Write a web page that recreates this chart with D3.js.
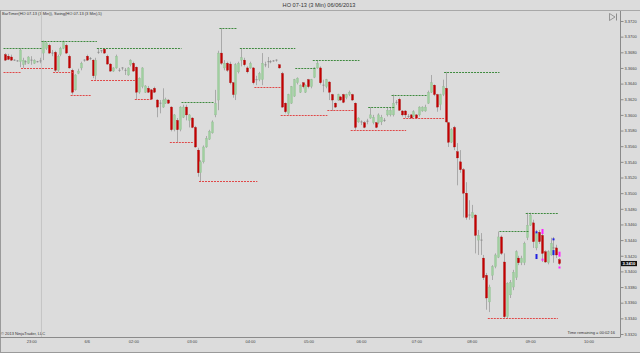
<!DOCTYPE html>
<html><head><meta charset="utf-8">
<script src="https://cdn.jsdelivr.net/npm/d3@7"></script>
<style>html,body{margin:0;padding:0;background:#dcdcdc;overflow:hidden}svg{display:block}</style>
</head><body>
<svg id="c" width="640" height="353"></svg>
<script>
// ---------- DATA ----------
const open = [
3.3677,3.3675,3.3674,3.3670,3.3669,3.3668,3.3664,3.3668,3.3666,3.3670,
3.3666,3.3668,3.3669,3.3679,3.3685,3.3689,3.3679,3.3680,3.3657,3.3677,
3.3685,3.3689,3.3675,3.3657,3.3632,3.3653,3.3660,3.3670,3.3675,3.3672,
3.3670,3.3650,3.3680,3.3682,3.3684,3.3675,3.3665,3.3656,3.3660,3.3657,
3.3660,3.3657,3.3651,3.3664,3.3666,3.3661,3.3629,3.3636,3.3629,3.3634,
3.3632,3.3634,3.3619,3.3615,3.3610,3.3615,3.3619,3.3610,3.3581,3.3593,
3.3581,
3.3597,3.3610,3.3593,3.3596,3.3584,3.3555,3.3526,3.3540,3.3559,3.3569,
3.3577,3.3600,3.3619,3.3679,3.3660,3.3666,3.3665,3.3641,3.3626,3.3655,
3.3670,3.3670,3.3660,3.3660,3.3660,3.3645,3.3645,3.3645,3.3664,3.3668,
3.3668,3.3669,3.3670,3.3664,3.3653,3.3615,3.3602,3.3615,3.3624,3.3641,
3.3629,3.3641,3.3629,3.3645,3.3636,3.3648,3.3660,3.3660,3.3638,3.3636,
3.3642,3.3626,3.3615,3.3619,3.3623,3.3626,3.3622,3.3626,3.3626,3.3615,
3.3591,
3.3591,3.3590,3.3592,3.3596,3.3590,3.3590,3.3590,3.3591,3.3593,3.3600,
3.3600,3.3600,3.3616,3.3620,3.3605,3.3605,3.3598,3.3600,3.3598,3.3600,
3.3600,3.3605,3.3605,3.3615,3.3629,3.3638,3.3626,3.3613,3.3626,3.3634,
3.3590,3.3565,3.3584,3.3553,3.3540,3.3530,3.3500,3.3472,3.3469,3.3472,
3.3440,3.3440,3.3417,3.3395,3.3361,3.3395,3.3406,3.3418,3.3444,3.3412,
3.3342,3.3370,3.3380,3.3392,3.3417,3.3411,3.3411,3.3443,3.3459,3.3462,
3.3430,3.3450,3.3446,3.3425,3.3411,3.3421,3.3430,3.3430,3.3415];
const close = [
3.3670,3.3671,3.3670,3.3670,3.3669,3.3683,3.3670,3.3668,3.3674,3.3670,
3.3670,3.3668,3.3669,3.3694,3.3692,3.3679,3.3679,3.3657,3.3675,3.3685,
3.3694,3.3679,3.3660,3.3629,3.3651,3.3656,3.3666,3.3670,3.3670,3.3672,
3.3650,3.3670,3.3680,3.3682,3.3679,3.3665,3.3656,3.3660,3.3675,3.3657,
3.3660,3.3657,3.3660,3.3670,3.3656,3.3629,3.3647,3.3660,3.3637,3.3629,
3.3620,3.3629,3.3610,3.3615,3.3619,3.3620,3.3615,3.3581,3.3600,3.3581,
3.3610,
3.3610,3.3600,3.3600,3.3584,3.3559,3.3526,3.3540,3.3559,3.3570,3.3579,
3.3591,3.3615,3.3679,3.3666,3.3666,3.3657,3.3641,3.3626,3.3664,3.3666,
3.3673,3.3664,3.3655,3.3666,3.3641,3.3645,3.3653,3.3666,3.3664,3.3668,
3.3668,3.3669,3.3670,3.3660,3.3610,3.3604,3.3626,3.3636,3.3645,3.3647,
3.3638,3.3636,3.3638,3.3636,3.3645,3.3660,3.3666,3.3641,3.3638,3.3645,
3.3629,3.3619,3.3610,3.3626,3.3619,3.3616,3.3626,3.3629,3.3619,3.3584,
3.3596,
3.3591,3.3584,3.3592,3.3600,3.3597,3.3584,3.3600,3.3597,3.3593,3.3606,
3.3606,3.3615,3.3616,3.3606,3.3600,3.3600,3.3598,3.3596,3.3604,3.3596,
3.3610,3.3610,3.3610,3.3629,3.3641,3.3626,3.3610,3.3626,3.3636,3.3591,
3.3565,3.3581,3.3559,3.3545,3.3530,3.3500,3.3469,3.3472,3.3475,3.3446,
3.3446,3.3440,3.3392,3.3366,3.3380,3.3406,3.3421,3.3444,3.3423,3.3342,
3.3385,3.3386,3.3399,3.3425,3.3411,3.3417,3.3436,3.3459,3.3472,3.3438,
3.3449,3.3438,3.3423,3.3412,3.3425,3.3436,3.3430,3.3421,3.3410];
const high = [
3.3679,3.3678,3.3677,3.3671,3.3670,3.3685,3.3673,3.3670,3.3675,3.3675,
3.3671,3.3669,3.3673,3.3695,3.3693,3.3691,3.3683,3.3682,3.3677,3.3687,
3.3695,3.3691,3.3677,3.3659,3.3652,3.3659,3.3668,3.3671,3.3677,3.3674,
3.3671,3.3673,3.3685,3.3683,3.3685,3.3677,3.3666,3.3661,3.3677,3.3660,
3.3661,3.3660,3.3661,3.3671,3.3668,3.3662,3.3648,3.3661,3.3638,3.3637,
3.3633,3.3636,3.3620,3.3619,3.3634,3.3622,3.3620,3.3611,3.3601,3.3596,
3.3611,
3.3613,3.3613,3.3601,3.3597,3.3586,3.3558,3.3542,3.3561,3.3573,3.3581,
3.3593,3.3632,3.3682,3.3711,3.3670,3.3668,3.3668,3.3642,3.3666,3.3668,
3.3685,3.3673,3.3662,3.3668,3.3661,3.3650,3.3655,3.3679,3.3668,3.3674,
3.3670,3.3670,3.3671,3.3665,3.3655,3.3616,3.3627,3.3637,3.3646,3.3648,
3.3639,3.3642,3.3639,3.3646,3.3646,3.3661,3.3670,3.3662,3.3645,3.3646,
3.3643,3.3627,3.3616,3.3627,3.3624,3.3627,3.3627,3.3631,3.3627,3.3616,
3.3597,
3.3593,3.3592,3.3595,3.3610,3.3600,3.3591,3.3602,3.3600,3.3596,3.3609,
3.3610,3.3626,3.3619,3.3622,3.3606,3.3606,3.3601,3.3601,3.3606,3.3601,
3.3611,3.3611,3.3613,3.3631,3.3651,3.3639,3.3627,3.3627,3.3645,3.3655,
3.3591,3.3583,3.3586,3.3564,3.3555,3.3532,3.3514,3.3491,3.3485,3.3473,
3.3453,3.3449,3.3421,3.3398,3.3383,3.3408,3.3423,3.3451,3.3446,3.3423,
3.3386,3.3389,3.3402,3.3427,3.3420,3.3420,3.3438,3.3475,3.3475,3.3466,
3.3453,3.3453,3.3449,3.3427,3.3427,3.3443,3.3444,3.3434,3.3417];
const low = [
3.3669,3.3670,3.3669,3.3669,3.3668,3.3661,3.3660,3.3664,3.3665,3.3664,
3.3665,3.3667,3.3666,3.3670,3.3683,3.3678,3.3675,3.3655,3.3655,3.3675,
3.3684,3.3678,3.3659,3.3626,3.3631,3.3652,3.3657,3.3668,3.3669,3.3670,
3.3647,3.3645,3.3678,3.3679,3.3678,3.3664,3.3655,3.3655,3.3659,3.3655,
3.3657,3.3651,3.3650,3.3662,3.3655,3.3620,3.3627,3.3634,3.3628,3.3628,
3.3620,3.3628,3.3597,3.3602,3.3609,3.3614,3.3614,3.3579,3.3579,3.3565,
3.3579,
3.3596,3.3593,3.3584,3.3583,3.3558,3.3521,3.3515,3.3538,3.3558,3.3568,
3.3576,3.3597,3.3606,3.3664,3.3657,3.3655,3.3639,3.3622,3.3619,3.3653,
3.3662,3.3662,3.3653,3.3659,3.3639,3.3638,3.3643,3.3638,3.3661,3.3660,
3.3666,3.3668,3.3668,3.3659,3.3609,3.3602,3.3600,3.3614,3.3623,3.3639,
3.3628,3.3634,3.3628,3.3634,3.3634,3.3647,3.3659,3.3639,3.3629,3.3634,
3.3619,3.3605,3.3609,3.3618,3.3618,3.3615,3.3620,3.3624,3.3618,3.3581,
3.3590,
3.3587,3.3583,3.3588,3.3595,3.3588,3.3583,3.3588,3.3587,3.3591,3.3598,
3.3598,3.3598,3.3613,3.3605,3.3598,3.3596,3.3596,3.3596,3.3597,3.3596,
3.3598,3.3604,3.3604,3.3614,3.3628,3.3624,3.3604,3.3606,3.3624,3.3590,
3.3559,3.3564,3.3555,3.3510,3.3526,3.3469,3.3466,3.3466,3.3468,3.3423,
3.3421,3.3421,3.3389,3.3351,3.3348,3.3389,3.3404,3.3417,3.3421,3.3340,
3.3340,3.3366,3.3376,3.3389,3.3408,3.3408,3.3408,3.3440,3.3458,3.3430,
3.3427,3.3435,3.3412,3.3411,3.3409,3.3420,3.3411,3.3417,3.3408];

const yTicks = [3.3320,3.3340,3.3360,3.3380,3.3400,3.3420,3.3440,3.3460,3.3480,3.3500,3.3520,
                3.3540,3.3560,3.3580,3.3600,3.3620,3.3640,3.3660,3.3680,3.3700,3.3720];
const timeLabels = ["23:00","6/6","02:00","03:00","04:00","05:00","06:00","07:00","08:00","09:00","10:00"];
const timeIndex  = [9,28,44,64,84,104,122,141,160,180,200];
const sessionBreak = 12.5;
// swing lines: [startBar, endBar, price]
const swingHighs = [[0,12,3.3685],[13,31,3.3695],[32,60,3.3685],[61,71,3.3616],[74,79,3.3711],
  [81,99,3.3685],[100,106,3.3660],[106,121,3.3670],[125,133,3.3610],[133,144,3.3626],
  [151,169,3.3655],[170,179,3.3451],[179,189,3.3475]];
const swingLows = [[0,5,3.3655],[6,16,3.3660],[17,23,3.3655],[23,29,3.3626],[30,44,3.3645],
  [45,50,3.3620],[57,64,3.3565],[67,86,3.3515],[86,94,3.3636],[95,110,3.3600],
  [111,119,3.3606],[119,137,3.3581],[137,150,3.3596],[166,189,3.3341]];
// marker bars / prices / colours / heights(px class)
const markerBar   = [182,182,184,184,188,188,190,190];
const markerPrice = [3.3450,3.3419,3.3451,3.3415,3.3441,3.3424,3.3422,3.3405];
const markerColor = ["#2020e0","#2020e0","#ff20ff","#ff20ff","#2020e0","#2020e0","#ff20ff","#ff20ff"];
const markerTall  = [0,1,1,0,0,1,1,0];
const titleText = "HO 07-13 (3 Min)  06/06/2013";
const legendText = "BarTimer(HO 07-13 (3 Min)), Swing(HO 07-13 (3 Min),5)";
const copyText = "\u00A9 2013 NinjaTrader, LLC";
const timerText = "Time remaining = 00:02:16";

// ---------- DRAW ----------
const svg = d3.select("#c");
const plotTop = 11, plotBottom = 337, plotRight = 620;
const x = d3.scaleLinear().domain([0, 190]).range([5, 559.3]);
const y = d3.scaleLinear().domain([3.3320, 3.3720]).range([334, 21]);
const font = "'Liberation Sans', Arial, sans-serif";

svg.append("rect").attr("width",640).attr("height",353).attr("fill","#dcdcdc");
svg.append("text").attr("x",319).attr("y",7).attr("text-anchor","middle")
  .attr("font-family",font).attr("font-size",5.6).attr("fill","#333").text(titleText);
svg.append("line").attr("x1",0).attr("x2",640).attr("y1",10.5).attr("y2",10.5).attr("stroke","#a8a8a8");
svg.append("line").attr("x1",0.5).attr("x2",0.5).attr("y1",10).attr("y2",353).attr("stroke","#9a9a9a");
svg.append("line").attr("x1",0).attr("x2",640).attr("y1",352.5).attr("y2",352.5).attr("stroke","#9a9a9a");

svg.append("text").attr("x",2).attr("y",14.6).attr("font-family",font).attr("font-size",4)
  .attr("fill","#333").text(legendText);

svg.append("defs").append("clipPath").attr("id","clip").append("rect")
  .attr("x",1).attr("y",plotTop).attr("width",plotRight-1).attr("height",plotBottom-plotTop);
const g = svg.append("g").attr("clip-path","url(#clip)");

g.append("line").attr("x1",x(sessionBreak)).attr("x2",x(sessionBreak))
  .attr("y1",plotTop).attr("y2",plotBottom).attr("stroke","#c4c4c4").attr("stroke-width",1);

const bars = d3.range(open.length);
// wicks
g.append("g").selectAll("line").data(bars).join("line")
  .attr("x1",i=>Math.round(x(i))+0.5).attr("x2",i=>Math.round(x(i))+0.5)
  .attr("y1",i=>y(high[i])).attr("y2",i=>y(low[i]))
  .attr("stroke","#a9a9a9").attr("stroke-width",1);
// bodies
g.append("g").selectAll("rect").data(bars.filter(i=>open[i]!==close[i])).join("rect")
  .attr("x",i=>Math.round(x(i))-0.5).attr("width",2)
  .attr("y",i=>y(Math.max(open[i],close[i])))
  .attr("height",i=>Math.max(1,Math.abs(y(open[i])-y(close[i]))))
  .attr("fill",i=>close[i]>open[i]?"#9fd09f":"#c40000")
  .attr("stroke",i=>close[i]>open[i]?"#8fb88f":"#a00000").attr("stroke-width",0.3);
// doji
g.append("g").selectAll("line").data(bars.filter(i=>open[i]===close[i])).join("line")
  .attr("x1",i=>Math.round(x(i))-0.5).attr("x2",i=>Math.round(x(i))+1.5)
  .attr("y1",i=>y(open[i])).attr("y2",i=>y(open[i]))
  .attr("stroke","#8c8c8c").attr("stroke-width",1);

// swing lines
const half = (x(1)-x(0))/2;
g.append("g").selectAll("line").data(swingHighs).join("line")
  .attr("x1",d=>x(d[0])-half).attr("x2",d=>x(d[1])+half)
  .attr("y1",d=>Math.round(y(d[2]))+0.5).attr("y2",d=>Math.round(y(d[2]))+0.5)
  .attr("stroke","#3e8a3e").attr("stroke-width",1).attr("stroke-dasharray","2,1");
g.append("g").selectAll("line").data(swingLows).join("line")
  .attr("x1",d=>x(d[0])-half).attr("x2",d=>x(d[1])+half)
  .attr("y1",d=>Math.round(y(d[2]))+0.5).attr("y2",d=>Math.round(y(d[2]))+0.5)
  .attr("stroke","#e04848").attr("stroke-width",1).attr("stroke-dasharray","2,1");

// markers
g.append("g").selectAll("rect").data(d3.range(markerBar.length)).join("rect")
  .attr("x",k=>Math.round(x(markerBar[k]))-0.5).attr("width",2)
  .attr("y",k=>y(markerPrice[k])-(markerTall[k]?2.5:1)).attr("height",k=>markerTall[k]?5:2)
  .attr("fill",k=>markerColor[k]);

// y axis
svg.append("line").attr("x1",plotRight+0.5).attr("x2",plotRight+0.5).attr("y1",plotTop).attr("y2",plotBottom)
  .attr("stroke","#8a8a8a");
const ya = svg.append("g").attr("transform",`translate(${plotRight+0.5},0)`)
  .call(d3.axisRight(y).tickValues(yTicks).tickFormat(d=>d.toFixed(4)).tickSize(3).tickPadding(1));
ya.select(".domain").remove();
ya.selectAll("line").attr("stroke","#8a8a8a");
ya.selectAll("text").attr("font-family",font).attr("font-size",4).attr("fill","#444");

// x axis
svg.append("line").attr("x1",0).attr("x2",plotRight+0.5).attr("y1",plotBottom+0.5).attr("y2",plotBottom+0.5)
  .attr("stroke","#8a8a8a");
const xa = svg.append("g").attr("transform",`translate(0,${plotBottom+0.5})`)
  .call(d3.axisBottom(x).tickValues(timeIndex).tickFormat((d,k)=>timeLabels[k]).tickSize(0).tickPadding(2.2));
xa.select(".domain").remove();
xa.selectAll("text").attr("font-family",font).attr("font-size",4).attr("fill","#444");

// footer texts
svg.append("text").attr("x",1).attr("y",335).attr("font-family",font).attr("font-size",4)
  .attr("fill","#333").text(copyText);
svg.append("text").attr("x",615).attr("y",333.5).attr("text-anchor","end").attr("font-family",font)
  .attr("font-size",4).attr("fill","#333").text(timerText);

// current price box
const last = close[close.length-1];
svg.append("rect").attr("x",621).attr("y",y(last)-2.6).attr("width",16).attr("height",5.2).attr("fill","#111");
svg.append("text").attr("x",629).attr("y",y(last)+1.5).attr("text-anchor","middle").attr("font-family",font)
  .attr("font-size",4.2).attr("font-weight","bold").attr("fill","#fff").text(last.toFixed(4));

// scroll icon
svg.append("path").attr("d","M609.5,13.5 L615,17 L609.5,20.5 Z").attr("fill","none").attr("stroke","#777").attr("stroke-width",0.7);
svg.append("line").attr("x1",616.5).attr("x2",616.5).attr("y1",13.5).attr("y2",20.5).attr("stroke","#777").attr("stroke-width",0.8);
</script>
</body></html>
